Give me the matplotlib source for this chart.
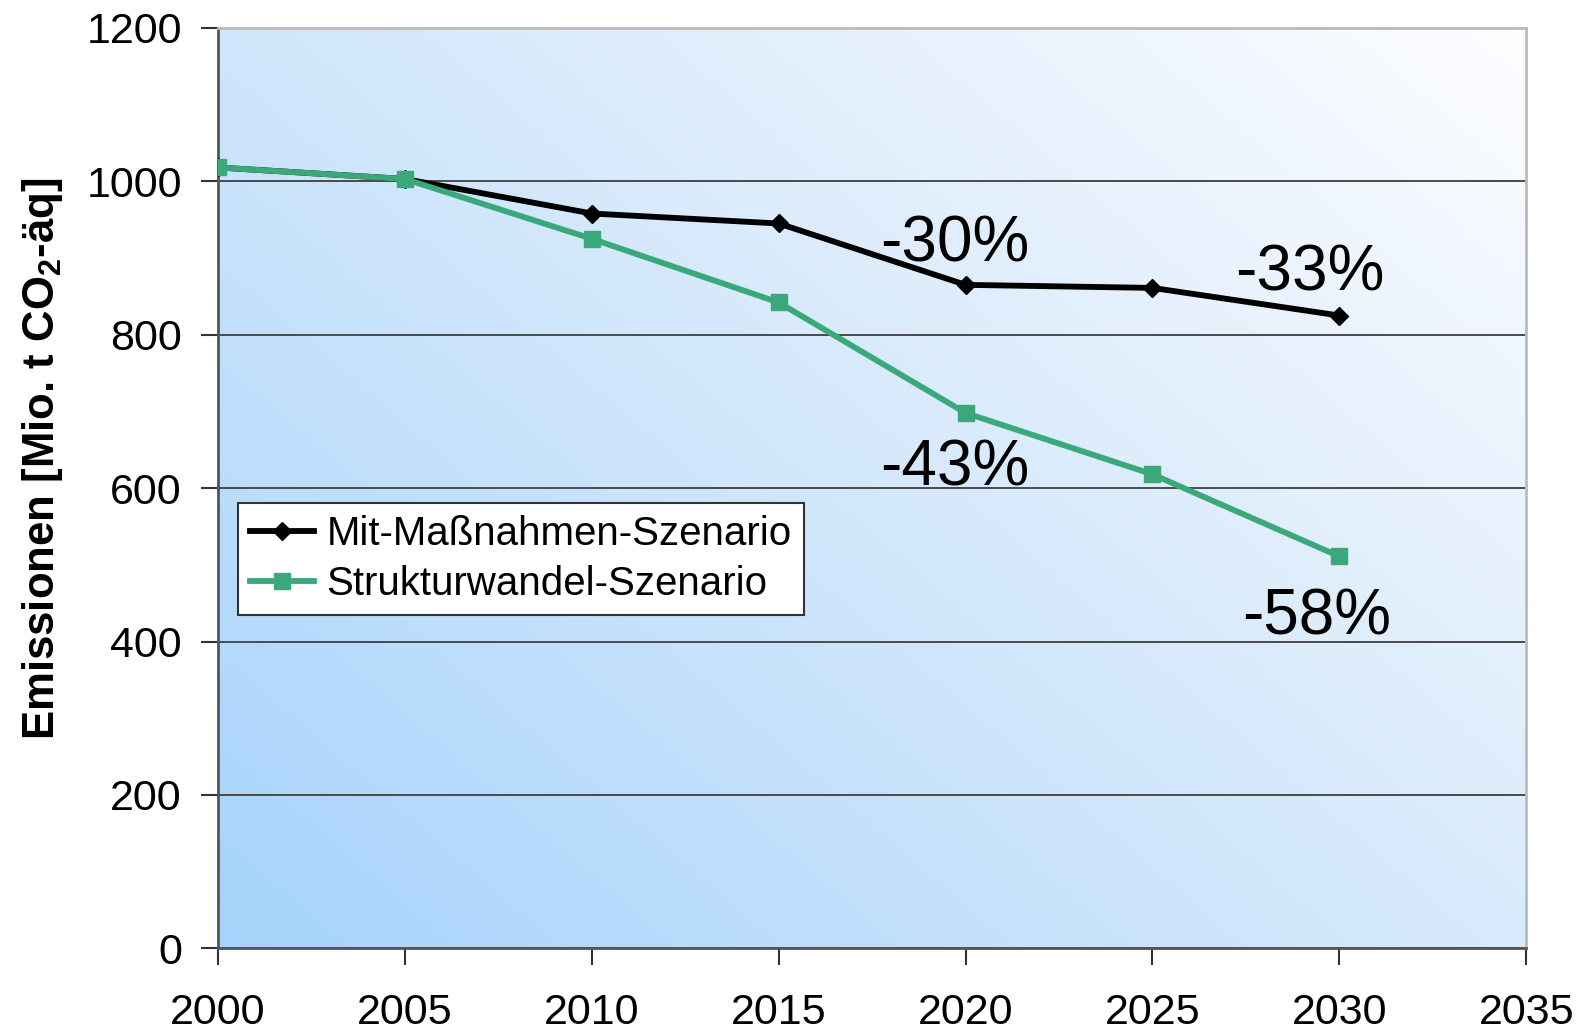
import matplotlib.pyplot as plt
import numpy as np
from matplotlib.colors import LinearSegmentedColormap

plt.rcParams['font.family'] = ['Liberation Sans', 'DejaVu Sans']

years = [2000, 2005, 2010, 2015, 2020, 2025, 2030]
mit_massnahmen = [1018, 1003, 958, 945, 865, 861, 825]
strukturwandel = [1018, 1003, 925, 842, 698, 618, 511]

labels = ["Mit-Maßnahmen-Szenario", "Strukturwandel-Szenario"]
notes = ["-30%", "-33%", "-43%", "-58%"]
note_pos = [(2019.7, 918), (2029.2, 880), (2019.7, 625), (2029.4, 432)]

green = "#3aa878"

fig = plt.figure(figsize=(15.8, 10.32), dpi=100)
ax = fig.add_axes([0.138, 0.081, 0.828, 0.892])

# diagonal gradient background: light blue bottom-left -> white top-right
gx, gy = np.meshgrid(np.linspace(0, 1, 300), np.linspace(0, 1, 300))
grad = (gx * 0.55 + gy * 0.45)
cmap = LinearSegmentedColormap.from_list("bg", ["#a6d3fb", "#d4e8fb", "#fdfdff"])
ax.imshow(grad, extent=[0, 1, 0, 1], transform=ax.transAxes, origin="lower",
          cmap=cmap, aspect="auto", zorder=0)

ax.plot(years, mit_massnahmen, color="black", lw=4.2, marker="D", ms=9,
        label=labels[0], zorder=3)
ax.plot(years, strukturwandel, color=green, lw=4.2, marker="s", ms=11,
        label=labels[1], zorder=4)

for t, (x, y) in zip(notes, note_pos):
    ax.text(x, y, t, fontsize=46, ha="center", va="center", zorder=5)

ax.set_xlim(2000, 2035)
ax.set_ylim(0, 1200)
ax.set_xticks(range(2000, 2036, 5))
ax.set_yticks(range(0, 1201, 200))
ax.yaxis.grid(True, color="#4a4a4a", lw=1.4, zorder=1)
ax.set_axisbelow(True)

ax.tick_params(axis="both", labelsize=31, length=12, width=1.5, color="#333333")
ax.tick_params(axis="y", pad=14)
ax.tick_params(axis="x", pad=20)

for s in ["left", "bottom"]:
    ax.spines[s].set_color("#555555")
    ax.spines[s].set_linewidth(2)
for s in ["top", "right"]:
    ax.spines[s].set_color("#bbbbbb")
    ax.spines[s].set_linewidth(2)

ax.set_ylabel("Emissionen [Mio. t CO$_\\mathregular{2}$-äq]", fontsize=31.5,
              fontweight="bold")
ax.yaxis.set_label_coords(-0.117, 0.532)

leg = ax.legend(loc="upper left", bbox_to_anchor=(0.015, 0.484), fontsize=29,
                handlelength=1.6, handletextpad=0.3, borderpad=0.3,
                labelspacing=0.3, fancybox=False, framealpha=1,
                edgecolor="#333333", borderaxespad=0)
leg.get_frame().set_linewidth(1.5)

fig.savefig("out.png", dpi=100)
